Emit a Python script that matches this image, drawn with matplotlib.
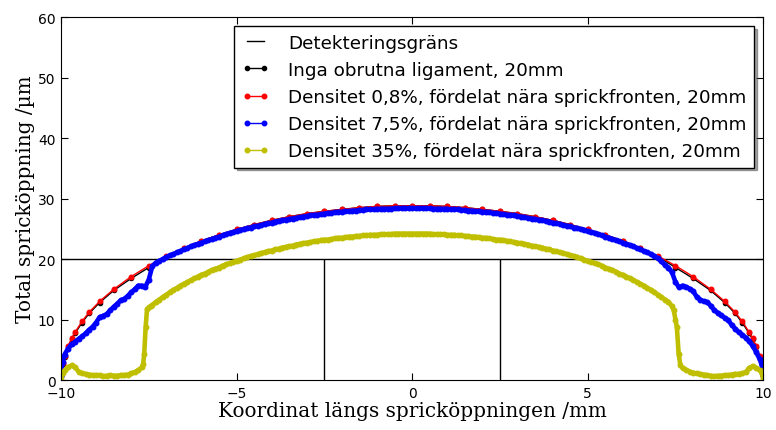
import matplotlib
matplotlib.use("Agg")
import matplotlib.pyplot as plt

# ---------------- data ----------------
det_x = [-10, 10]
det_y = [20, 20]
det_vx = [-2.5, 2.5]
det_vy = [0, 20]

red_x = [-10, -9.95, -9.9, -9.8, -9.7, -9.6, -9.4, -9.2, -8.9, -8.5, -8.0, -7.5,
         -7.0, -6.5, -6.0, -5.5, -5.0, -4.5, -4.0, -3.5, -3.0, -2.5, -2.0, -1.5,
         -1.0, -0.5, 0.0, 0.5, 1.0, 1.5, 2.0, 2.5, 3.0, 3.5, 4.0, 4.5, 5.0, 5.5,
         6.0, 6.5, 7.0, 7.5, 8.0, 8.5, 8.9, 9.2, 9.4, 9.6, 9.7, 9.8, 9.9, 9.95, 10]
red_y = [0.8, 2.8, 4.0, 5.6, 6.9, 7.9, 9.7, 11.2, 13.0, 15.0, 17.1, 18.9,
         20.5, 21.8, 23.0, 24.0, 24.9, 25.7, 26.4, 27.0, 27.5, 27.9, 28.2, 28.5,
         28.7, 28.8, 28.8, 28.8, 28.7, 28.5, 28.2, 27.9, 27.5, 27.0, 26.4, 25.7,
         24.9, 24.0, 23.0, 21.8, 20.5, 18.9, 17.1, 15.0, 13.0, 11.2, 9.7, 7.9,
         6.9, 5.6, 4.0, 2.8, 0.8]
black_y = [0.6, 2.6, 3.8, 5.4, 6.7, 7.7, 9.5, 11.0, 12.8, 14.8, 16.8, 18.6,
           20.4, 21.8, 23.0, 24.0, 24.9, 25.7, 26.4, 27.0, 27.5, 27.9, 28.2, 28.5,
           28.7, 28.8, 28.8, 28.8, 28.7, 28.5, 28.2, 27.9, 27.5, 27.0, 26.4, 25.7,
           24.9, 24.0, 23.0, 21.8, 20.4, 18.6, 16.8, 14.8, 12.8, 11.0, 9.5, 7.7,
           6.7, 5.4, 3.8, 2.6, 0.6]

blue_x = [-10, -9.95, -9.9, -9.8, -9.7, -9.6, -9.5, -9.4, -9.3, -9.2, -9.1,
          -9.0, -8.9, -8.8, -8.7, -8.6, -8.5, -8.4, -8.3, -8.2, -8.1,
          -8.0, -7.9, -7.8, -7.7, -7.6, -7.5, -7.4, -7.3, -7.2, -7.1,
          -7.0, -6.9, -6.8, -6.7, -6.6, -6.5, -6.4, -6.3, -6.2, -6.1,
          -6.0, -5.9, -5.8, -5.7, -5.6, -5.5, -5.4, -5.3, -5.2, -5.1,
          -5.0, -4.9, -4.8, -4.7, -4.6, -4.5, -4.4, -4.3, -4.2, -4.1,
          -4.0, -3.9, -3.8, -3.7, -3.6, -3.5, -3.4, -3.3, -3.2, -3.1,
          -3.0, -2.9, -2.8, -2.7, -2.6, -2.5, -2.4, -2.3, -2.2, -2.1,
          -2.0, -1.9, -1.8, -1.7, -1.6, -1.5, -1.4, -1.3, -1.2, -1.1,
          -1.0, -0.9, -0.8, -0.7, -0.6, -0.5, -0.4, -0.3, -0.2, -0.1,
          0.0, 0.1, 0.2, 0.3, 0.4, 0.5, 0.6, 0.7, 0.8, 0.9,
          1.0, 1.1, 1.2, 1.3, 1.4, 1.5, 1.6, 1.7, 1.8, 1.9,
          2.0, 2.1, 2.2, 2.3, 2.4, 2.5, 2.6, 2.7, 2.8, 2.9,
          3.0, 3.1, 3.2, 3.3, 3.4, 3.5, 3.6, 3.7, 3.8, 3.9,
          4.0, 4.1, 4.2, 4.3, 4.4, 4.5, 4.6, 4.7, 4.8, 4.9,
          5.0, 5.1, 5.2, 5.3, 5.4, 5.5, 5.6, 5.7, 5.8, 5.9,
          6.0, 6.1, 6.2, 6.3, 6.4, 6.5, 6.6, 6.7, 6.8, 6.9,
          7.0, 7.1, 7.2, 7.3, 7.4, 7.5, 7.6, 7.7, 7.8, 7.9,
          8.0, 8.1, 8.2, 8.3, 8.4, 8.5, 8.6, 8.7, 8.8, 8.9,
          9.0, 9.1, 9.2, 9.3, 9.4, 9.5, 9.6, 9.7, 9.8, 9.9, 9.95, 10]
blue_y = [0.6, 3.0, 4.2, 5.2, 5.9, 6.3, 6.8, 7.2, 7.7, 8.3, 8.8,
          9.5, 10.4, 10.6, 10.9, 11.5, 12.1, 12.6, 13.2, 13.4, 13.9,
          14.5, 15.0, 15.6, 15.6, 15.4, 16.6, 18.8, 19.4, 19.7, 20.0,
          20.3, 20.6, 20.8, 21.1, 21.3, 21.6, 21.8, 22.1, 22.3, 22.5,
          22.7, 22.9, 23.1, 23.3, 23.5, 23.7, 23.9, 24.1, 24.3, 24.4,
          24.6, 24.8, 24.9, 25.1, 25.2, 25.4, 25.5, 25.6, 25.8, 25.9,
          26.0, 26.2, 26.3, 26.4, 26.5, 26.6, 26.7, 26.8, 26.9, 27.0,
          27.1, 27.2, 27.3, 27.3, 27.4, 27.5, 27.6, 27.6, 27.7, 27.8,
          27.8, 27.9, 27.9, 28.0, 28.0, 28.1, 28.1, 28.2, 28.2, 28.2,
          28.3, 28.3, 28.3, 28.3, 28.3, 28.4, 28.4, 28.4, 28.4, 28.4,
          28.4, 28.4, 28.4, 28.4, 28.4, 28.4, 28.3, 28.3, 28.3, 28.3,
          28.3, 28.2, 28.2, 28.2, 28.1, 28.1, 28.0, 28.0, 27.9, 27.9,
          27.8, 27.8, 27.7, 27.6, 27.6, 27.5, 27.4, 27.3, 27.3, 27.2,
          27.1, 27.0, 26.9, 26.8, 26.7, 26.6, 26.5, 26.4, 26.3, 26.2,
          26.0, 25.9, 25.8, 25.6, 25.5, 25.4, 25.2, 25.1, 24.9, 24.8,
          24.6, 24.4, 24.3, 24.1, 23.9, 23.7, 23.5, 23.3, 23.1, 22.9,
          22.7, 22.5, 22.3, 22.1, 21.8, 21.6, 21.3, 21.1, 20.8, 20.5,
          20.1, 19.6, 19.0, 18.6, 17.8, 16.2, 15.3, 15.6, 15.4, 15.1,
          14.7, 13.8, 13.3, 13.0, 12.9, 12.3, 11.6, 11.1, 10.7, 10.3,
          9.9, 9.1, 8.5, 7.9, 7.5, 7.0, 6.4, 5.6, 4.6, 3.4, 2.6, 0.8]

yel_x = [-10, -9.95, -9.9, -9.8, -9.7, -9.6, -9.5, -9.4, -9.3, -9.2, -9.1,
         -9.0, -8.9, -8.8, -8.7, -8.6, -8.5, -8.4, -8.3, -8.2, -8.1,
         -8.0, -7.9, -7.8, -7.7, -7.66, -7.63, -7.59, -7.55, -7.5, -7.45, -7.4,
         -7.3, -7.2, -7.1,
         -7.0, -6.9, -6.8, -6.7, -6.6, -6.5, -6.4, -6.3, -6.2, -6.1,
         -6.0, -5.9, -5.8, -5.7, -5.6, -5.5, -5.4, -5.3, -5.2, -5.1,
         -5.0, -4.9, -4.8, -4.7, -4.6, -4.5, -4.4, -4.3, -4.2, -4.1,
         -4.0, -3.9, -3.8, -3.7, -3.6, -3.5, -3.4, -3.3, -3.2, -3.1,
         -3.0, -2.9, -2.8, -2.7, -2.6, -2.5, -2.4, -2.3, -2.2, -2.1,
         -2.0, -1.9, -1.8, -1.7, -1.6, -1.5, -1.4, -1.3, -1.2, -1.1,
         -1.0, -0.9, -0.8, -0.7, -0.6, -0.5, -0.4, -0.3, -0.2, -0.1,
         0.0, 0.1, 0.2, 0.3, 0.4, 0.5, 0.6, 0.7, 0.8, 0.9,
         1.0, 1.1, 1.2, 1.3, 1.4, 1.5, 1.6, 1.7, 1.8, 1.9,
         2.0, 2.1, 2.2, 2.3, 2.4, 2.5, 2.6, 2.7, 2.8, 2.9,
         3.0, 3.1, 3.2, 3.3, 3.4, 3.5, 3.6, 3.7, 3.8, 3.9,
         4.0, 4.1, 4.2, 4.3, 4.4, 4.5, 4.6, 4.7, 4.8, 4.9,
         5.0, 5.1, 5.2, 5.3, 5.4, 5.5, 5.6, 5.7, 5.8, 5.9,
         6.0, 6.1, 6.2, 6.3, 6.4, 6.5, 6.6, 6.7, 6.8, 6.9,
         7.0, 7.1, 7.2, 7.3, 7.4, 7.45, 7.5, 7.54, 7.59, 7.64, 7.7, 7.8, 7.9,
         8.0, 8.1, 8.2, 8.3, 8.4, 8.5, 8.6, 8.7, 8.8, 8.9,
         9.0, 9.1, 9.2, 9.3, 9.4, 9.5, 9.6, 9.7, 9.8, 9.9, 9.95, 10]
yel_y = [0.2, 1.2, 1.6, 2.1, 2.4, 2.1, 1.4, 1.1, 1.0, 0.9, 0.8,
         0.8, 0.8, 0.6, 0.7, 0.8, 0.7, 0.7, 0.8, 0.8, 0.9,
         1.1, 1.3, 1.6, 2.1, 2.6, 4.3, 8.7, 11.7, 12.0, 12.2, 12.4,
         12.9, 13.3, 13.7,
         14.1, 14.5, 14.9, 15.2, 15.6, 15.9, 16.2, 16.5, 16.8, 17.1,
         17.4, 17.6, 17.9, 18.2, 18.4, 18.6, 18.9, 19.1, 19.3, 19.5,
         19.7, 19.9, 20.1, 20.3, 20.5, 20.6, 20.8, 21.0, 21.1, 21.3,
         21.4, 21.6, 21.7, 21.9, 22.0, 22.1, 22.2, 22.4, 22.5, 22.6,
         22.7, 22.8, 22.9, 23.0, 23.1, 23.2, 23.2, 23.3, 23.4, 23.5,
         23.5, 23.6, 23.7, 23.7, 23.8, 23.8, 23.9, 23.9, 24.0, 24.0,
         24.0, 24.1, 24.1, 24.1, 24.1, 24.2, 24.2, 24.2, 24.2, 24.2,
         24.2, 24.2, 24.2, 24.2, 24.2, 24.2, 24.1, 24.1, 24.1, 24.1,
         24.0, 24.0, 24.0, 23.9, 23.9, 23.8, 23.8, 23.7, 23.7, 23.6,
         23.5, 23.5, 23.4, 23.3, 23.2, 23.2, 23.1, 23.0, 22.9, 22.8,
         22.7, 22.6, 22.5, 22.4, 22.2, 22.1, 22.0, 21.9, 21.7, 21.6,
         21.4, 21.3, 21.1, 21.0, 20.8, 20.6, 20.5, 20.3, 20.1, 19.9,
         19.7, 19.5, 19.3, 19.1, 18.9, 18.6, 18.4, 18.2, 17.9, 17.6,
         17.4, 17.1, 16.8, 16.5, 16.2, 15.9, 15.6, 15.2, 14.9, 14.5,
         14.1, 13.7, 13.3, 12.9, 12.2, 11.5, 10.0, 8.7, 4.3, 2.4, 2.0, 1.7, 1.4,
         1.2, 1.1, 1.0, 0.9, 0.8, 0.7, 0.6, 0.7, 0.7, 0.8,
         0.8, 0.9, 1.0, 1.0, 1.1, 1.3, 2.0, 2.3, 2.0, 1.6, 1.2, 0.2]

labels = ["Detekteringsgräns",
          "Inga obrutna ligament, 20mm",
          "Densitet 0,8%, fördelat nära sprickfronten, 20mm",
          "Densitet 7,5%, fördelat nära sprickfronten, 20mm",
          "Densitet 35%, fördelat nära sprickfronten, 20mm"]

BLUE = "b"
YEL = "#bfbf00"

# ---------------- figure ----------------
fig = plt.figure(figsize=(7.76, 4.31), dpi=100)
ax = fig.add_axes([0.0786, 0.116, 0.905, 0.842])

ax.plot(det_x, det_y, color="k", lw=1.0, label=labels[0])
ax.vlines(det_vx, det_vy[0], det_vy[1], color="k", lw=1.0)
ax.plot(red_x, black_y, ".-", color="k", lw=1.0, ms=6, label=labels[1])
ax.plot(red_x, red_y, ".-", color="r", lw=1.0, ms=6.5, label=labels[2])
# dense marker band (the many close points merge into a thick line)
ax.plot(blue_x, blue_y, "-", color=BLUE, lw=3.3, solid_capstyle="round",
        solid_joinstyle="round")
ax.plot(blue_x, blue_y, ".-", color=BLUE, lw=1.0, ms=6.5, label=labels[3])
ax.plot(yel_x, yel_y, "-", color=YEL, lw=3.3, solid_capstyle="round",
        solid_joinstyle="round")
ax.plot(yel_x, yel_y, ".-", color=YEL, lw=1.0, ms=6.5, label=labels[4])

ax.set_xlim(-10, 10)
ax.set_ylim(0, 60)
ax.set_xticks([-10, -5, 0, 5, 10])
ax.set_yticks([0, 10, 20, 30, 40, 50, 60])
ax.tick_params(direction="in", top=True, right=True, labelsize=10, length=5, pad=4)

ax.set_xlabel("Koordinat längs spricköppningen /mm", family="DejaVu Serif",
              fontsize=14.4, labelpad=1)
ax.set_ylabel("Total spricköppning /µm", family="DejaVu Serif",
              fontsize=14.4, labelpad=2)

leg = ax.legend(loc="upper right", fontsize=13.2, numpoints=2, shadow=True,
                fancybox=False, framealpha=1, edgecolor="k",
                borderaxespad=0.5, handlelength=1.55, handletextpad=1.0,
                labelspacing=0.5)
leg.get_frame().set_linewidth(1.0)

fig.savefig("out.png", dpi=100)
